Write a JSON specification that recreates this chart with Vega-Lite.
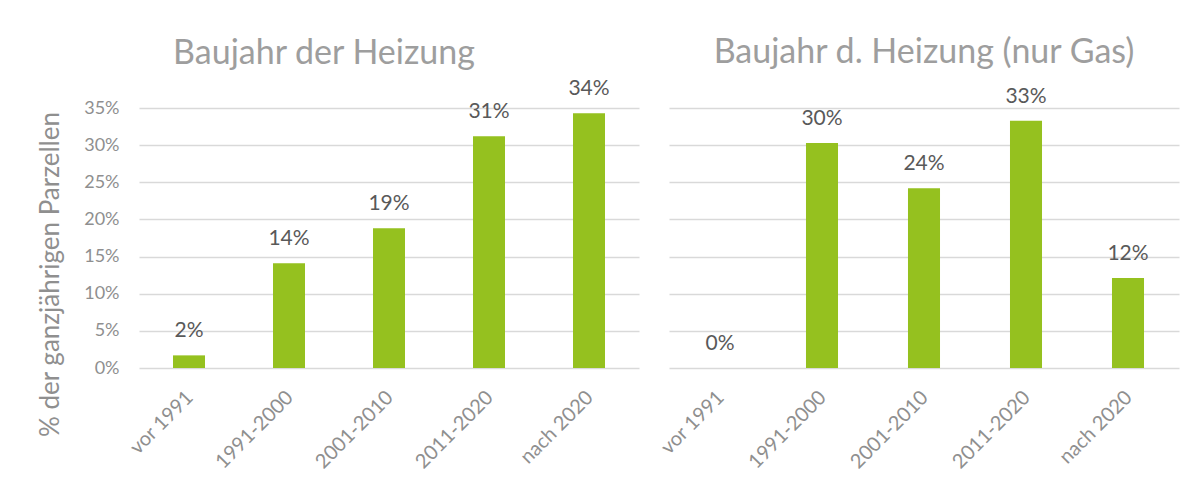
{
  "$schema": "https://vega.github.io/schema/vega-lite/v6.json",
  "background": "white",
  "padding": {"left": 37, "top": 35, "right": 5, "bottom": 5},
  "config": {
    "font": "Lato",
    "view": {"stroke": null},
    "concat": {"spacing": 17},
    "title": {"fontSize": 34, "fontWeight": "normal", "color": "#9e9e9e", "font": "Lato"}
  },
  "datasets": {
    "alle": [
      {"periode": "vor 1991", "anteil": 0.017},
      {"periode": "1991-2000", "anteil": 0.141},
      {"periode": "2001-2010", "anteil": 0.188},
      {"periode": "2011-2020", "anteil": 0.312},
      {"periode": "nach 2020", "anteil": 0.343}
    ],
    "gas": [
      {"periode": "vor 1991", "anteil": 0.0},
      {"periode": "1991-2000", "anteil": 0.303},
      {"periode": "2001-2010", "anteil": 0.242},
      {"periode": "2011-2020", "anteil": 0.333},
      {"periode": "nach 2020", "anteil": 0.121}
    ]
  },
  "hconcat": [
    {
      "width": 500,
      "height": 260,
      "data": {"name": "alle"},
      "title": {"text": "Baujahr der Heizung", "offset": 7, "frame": "group", "dx": -65},
      "encoding": {
        "x": {
          "field": "periode", "type": "nominal",
          "sort": ["vor 1991", "1991-2000", "2001-2010", "2011-2020", "nach 2020"],
          "scale": {"paddingInner": 0.68, "paddingOuter": 0.34},
          "axis": {"title": null, "labelAngle": -45, "labelFontSize": 20, "labelColor": "#8f8f8f", "ticks": false, "domain": false, "labelPadding": 19, "labelOffset": -6}
        },
        "y": {
          "field": "anteil", "type": "quantitative",
          "scale": {"domain": [0, 0.35]},
          "axis": {
            "values": [0, 0.05, 0.1, 0.15, 0.2, 0.25, 0.3, 0.35],
            "format": ".0%",
            "labelFontSize": 18, "labelColor": "#8f8f8f", "labelPadding": 20,
            "ticks": false, "domain": false,
            "gridColor": "#d9d9d9", "gridWidth": 1.3,
            "title": "% der ganzjährigen Parzellen",
            "titleFontSize": 26, "titleColor": "#8f8f8f", "titleFontWeight": "normal", "titlePadding": 20,
            "titleY": 166
          }
        }
      },
      "layer": [
        {"mark": {"type": "bar", "color": "#95c11f"}},
        {"mark": {"type": "text", "baseline": "alphabetic", "dy": -18, "fontSize": 21, "color": "#595959"},
         "encoding": {"text": {"field": "anteil", "type": "quantitative", "format": ".0%"}}}
      ]
    },
    {
      "width": 510,
      "height": 260,
      "data": {"name": "gas"},
      "title": {"text": "Baujahr d. Heizung (nur Gas)", "offset": 16, "frame": "group"},
      "encoding": {
        "x": {
          "field": "periode", "type": "nominal",
          "sort": ["vor 1991", "1991-2000", "2001-2010", "2011-2020", "nach 2020"],
          "scale": {"paddingInner": 0.686, "paddingOuter": 0.343},
          "axis": {"title": null, "labelAngle": -45, "labelFontSize": 20, "labelColor": "#8f8f8f", "ticks": false, "domain": false, "labelPadding": 19, "labelOffset": -6}
        },
        "y": {
          "field": "anteil", "type": "quantitative",
          "scale": {"domain": [0, 0.35]},
          "axis": {
            "values": [0, 0.05, 0.1, 0.15, 0.2, 0.25, 0.3, 0.35],
            "labels": false, "ticks": false, "domain": false, "title": null,
            "gridColor": "#d9d9d9", "gridWidth": 1.3
          }
        }
      },
      "layer": [
        {"mark": {"type": "bar", "color": "#95c11f"}},
        {"mark": {"type": "text", "baseline": "alphabetic", "dy": -18, "fontSize": 21, "color": "#595959"},
         "encoding": {"text": {"field": "anteil", "type": "quantitative", "format": ".0%"}}}
      ]
    }
  ]
}
